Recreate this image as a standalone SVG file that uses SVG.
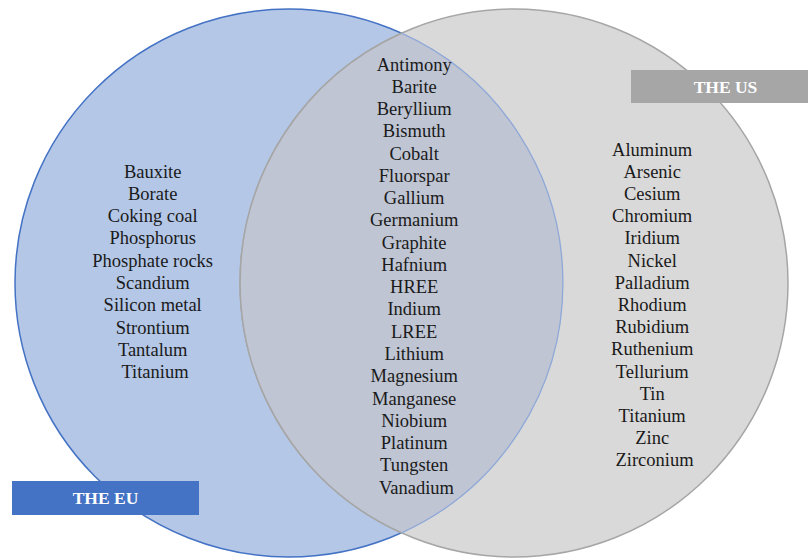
<svg xmlns="http://www.w3.org/2000/svg" width="808" height="559" viewBox="0 0 808 559">
<style>
.item{font-family:"Liberation Serif","Times New Roman",serif;font-size:18.5px;fill:#1a1a1a;text-anchor:middle}
.lab{font-family:"Liberation Serif","Times New Roman",serif;font-size:17.5px;font-weight:bold;fill:#ffffff;text-anchor:middle}
</style>
<rect width="808" height="559" fill="#ffffff"/>
<g id="eu-circle">
<circle cx="289" cy="283" r="274" fill="#B4C7E7" stroke="#4472C4" stroke-width="1.5"/>
</g>
<g id="us-circle">
<circle cx="514" cy="283" r="274" fill="#D9D9D9" stroke="#A6A6A6" stroke-width="1.5"/>
</g>
<g id="overlap">
<path d="M401.5,33.2 A274,274 0 0 1 401.5,532.8 A274,274 0 0 1 401.5,33.2 Z" fill="#BFC5D3"/>
<path d="M401.5,33.2 A274,274 0 0 1 401.5,532.8" fill="none" stroke="#8FA8D8" stroke-width="1.3"/>
<path d="M401.5,532.8 A274,274 0 0 1 401.5,33.2" fill="none" stroke="#A6A6A6" stroke-width="1.5"/>
</g>
<g id="eu-only">
<text class="item" x="155" y="177.5">
<tspan x="155">Bauxite</tspan>
<tspan x="155" dy="22.33">Borate</tspan>
<tspan x="155" dy="22.33">Coking coal</tspan>
<tspan x="155" dy="22.33">Phosphorus</tspan>
<tspan x="155" dy="22.33">Phosphate rocks</tspan>
<tspan x="155" dy="22.33">Scandium</tspan>
<tspan x="155" dy="22.33">Silicon metal</tspan>
<tspan x="155" dy="22.33">Strontium</tspan>
<tspan x="155" dy="22.33">Tantalum</tspan>
<tspan x="155" dy="22.33">Titanium</tspan>
</text>
</g>
<g id="both">
<text class="item" x="416.5" y="70.5">
<tspan x="416.5">Antimony</tspan>
<tspan x="416.5" dy="22.27">Barite</tspan>
<tspan x="416.5" dy="22.27">Beryllium</tspan>
<tspan x="416.5" dy="22.27">Bismuth</tspan>
<tspan x="416.5" dy="22.27">Cobalt</tspan>
<tspan x="416.5" dy="22.27">Fluorspar</tspan>
<tspan x="416.5" dy="22.27">Gallium</tspan>
<tspan x="416.5" dy="22.27">Germanium</tspan>
<tspan x="416.5" dy="22.27">Graphite</tspan>
<tspan x="416.5" dy="22.27">Hafnium</tspan>
<tspan x="416.5" dy="22.27">HREE</tspan>
<tspan x="416.5" dy="22.27">Indium</tspan>
<tspan x="416.5" dy="22.27">LREE</tspan>
<tspan x="416.5" dy="22.27">Lithium</tspan>
<tspan x="416.5" dy="22.27">Magnesium</tspan>
<tspan x="416.5" dy="22.27">Manganese</tspan>
<tspan x="416.5" dy="22.27">Niobium</tspan>
<tspan x="416.5" dy="22.27">Platinum</tspan>
<tspan x="416.5" dy="22.27">Tungsten</tspan>
<tspan x="416.5" dy="22.27">Vanadium</tspan>
</text>
</g>
<g id="us-only">
<text class="item" x="654.5" y="155.5">
<tspan x="654.5">Aluminum</tspan>
<tspan x="654.5" dy="22.2">Arsenic</tspan>
<tspan x="654.5" dy="22.2">Cesium</tspan>
<tspan x="654.5" dy="22.2">Chromium</tspan>
<tspan x="654.5" dy="22.2">Iridium</tspan>
<tspan x="654.5" dy="22.2">Nickel</tspan>
<tspan x="654.5" dy="22.2">Palladium</tspan>
<tspan x="654.5" dy="22.2">Rhodium</tspan>
<tspan x="654.5" dy="22.2">Rubidium</tspan>
<tspan x="654.5" dy="22.2">Ruthenium</tspan>
<tspan x="654.5" dy="22.2">Tellurium</tspan>
<tspan x="654.5" dy="22.2">Tin</tspan>
<tspan x="654.5" dy="22.2">Titanium</tspan>
<tspan x="654.5" dy="22.2">Zinc</tspan>
<tspan x="654.5" dy="22.2">Zirconium</tspan>
</text>
</g>
<g id="label-eu">
<rect x="12" y="481" width="187" height="34" fill="#4472C4"/>
<text class="lab" x="105.5" y="504">THE EU</text>
</g>
<g id="label-us">
<rect x="631" y="70" width="177" height="33" fill="#A6A6A6"/>
<text class="lab" x="725.5" y="92.5">THE US</text>
</g>
</svg>
